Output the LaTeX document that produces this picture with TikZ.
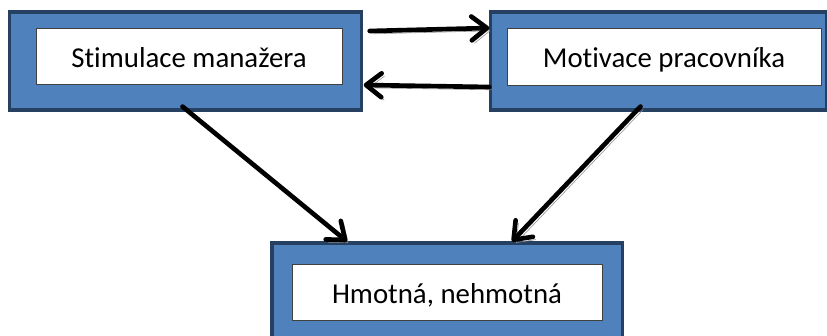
\documentclass[tikz,border=0pt]{standalone}
\usepackage{fontspec}
\setmainfont{Carlito}[Ligatures=NoCommon]
\usetikzlibrary{arrows.meta, calc, positioning}
\definecolor{boxblue}{RGB}{79,129,189}
\definecolor{boxedge}{RGB}{37,64,97}

\begin{document}
\begin{tikzpicture}[x=0.025cm, y=-0.025cm,
  outerbox/.style={draw=boxedge, line width=2.2pt, fill=boxblue, minimum height=2.45cm},
  innerbox/.style={draw=black!75, line width=0.6pt, fill=white, minimum height=1.42cm,
                   text height=18pt, text depth=3pt,
                   font=\fontsize{20.5}{24}\selectfont},
  flow/.style={line width=3.3pt, line cap=round, -{Straight Barb[length=11pt, width=17pt, round]},
               preaction={draw=black!45, transform canvas={xshift=2pt, yshift=-2pt}}}]
  \useasboundingbox (0,0) rectangle (827,335);

  % outer blue frames
  \node[outerbox, minimum width=8.78cm] (stimbox) at (185.5,61) {};
  \node[outerbox, minimum width=8.38cm] (motivbox) at (658.5,61) {};
  \node[outerbox, minimum width=8.75cm] (hmbox) at (447,292) {};

  % white text boxes
  \node[innerbox, minimum width=7.65cm] (stim) at (189,56.5) {Stimulace manažera};
  \node[innerbox, minimum width=7.85cm] (motiv) at (664,57) {Motivace pracovníka};
  \node[innerbox, minimum width=7.75cm] (hm) at (447,292.5) {Hmotná, nehmotná};

  % connectors
  \draw[flow] ($(stimbox.east)+(7,-30)$) -- ($(motivbox.west)+(0,-33)$);
  \draw[flow] ($(motivbox.west)+(0,26)$) -- ($(stimbox.east)+(1,24)$);
  \draw[flow] ($(stimbox.south)+(-3,-5)$) -- ($(hmbox.north)+(-100,0)$);
  \draw[flow] ($(motivbox.south)+(-18,-5)$) -- ($(hmbox.north)+(65,0)$);
\end{tikzpicture}
\end{document}
